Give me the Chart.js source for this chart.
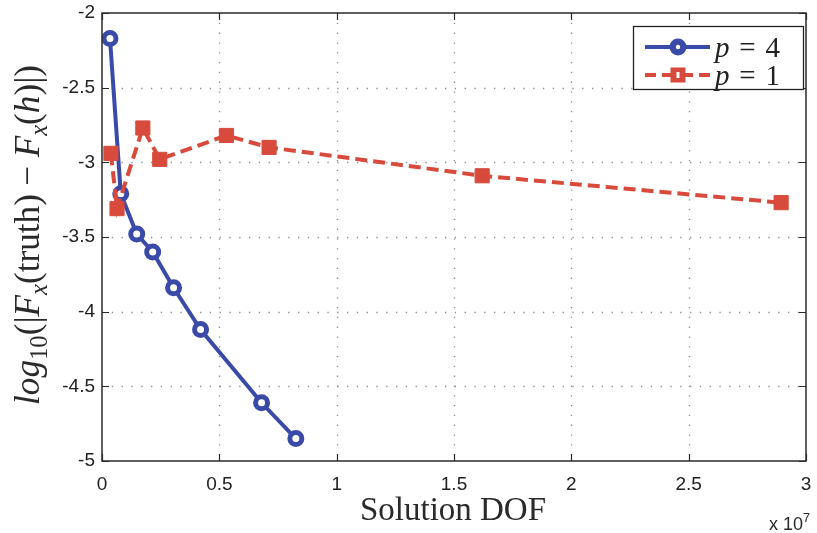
<!DOCTYPE html>
<html><head><meta charset="utf-8">
<script src="https://cdn.jsdelivr.net/npm/chart.js@4"></script>
<style>html,body{margin:0;padding:0;background:#fff}#wrap{width:817px;height:533px}</style>
</head><body><div id="wrap"><canvas id="c" width="817" height="533"></canvas></div>
<script>
// ---- data ----
const p4X = [340000, 800000, 1480000, 2160000, 3050000, 4200000, 6800000, 8260000];
const p4Y = [-2.17, -3.21, -3.48, -3.60, -3.84, -4.12, -4.61, -4.85];
const p1X = [380000, 640000, 1740000, 2460000, 5300000, 7120000, 16200000, 28940000];
const p1Y = [-2.94, -3.31, -2.77, -2.98, -2.82, -2.90, -3.09, -3.27];
const xTicks = [0, 5e6, 1e7, 1.5e7, 2e7, 2.5e7, 3e7];
const yTicks = [-5, -4.5, -4, -3.5, -3, -2.5, -2];
const legendNames = ['4', '1'];   // p = 4, p = 1
const xTitle = 'Solution DOF';

const BLUE = '#3a4aa8', RED = '#d84b3c';
const SERIF = '"Liberation Serif", "DejaVu Serif", serif';
const SANS = '"Liberation Sans", Arial, sans-serif';

function layoutMath(ctx, pieces, size) {
  let w = 0; const out = [];
  for (const p of pieces) {
    const s = p.sub ? size * 0.7 : (p.sup ? size * 0.7 : size);
    const font = (p.it ? 'italic ' : '') + s + 'px ' + (p.fam || SERIF);
    ctx.font = font;
    const pw = ctx.measureText(p.t).width;
    w += (p.gl || 0) * size;
    out.push({t: p.t, font, x: w, dy: p.sub ? size * 0.22 : (p.sup ? -size * 0.42 : 0)});
    w += pw + (p.gr || 0) * size;
  }
  return {w, out};
}
function drawMath(ctx, lay, x0, y0) {
  for (const o of lay.out) { ctx.font = o.font; ctx.fillText(o.t, x0 + o.x, y0 + o.dy); }
}

const deco = {
  id: 'deco',
  beforeDatasetsDraw(chart) {
    const {ctx, chartArea: a, scales: {x, y}} = chart;
    ctx.save();
    ctx.strokeStyle = '#8c8c8c'; ctx.lineWidth = 1.3; ctx.setLineDash([1.3, 8.5]);
    xTicks.slice(1, -1).forEach(v => {
      const px = Math.round(x.getPixelForValue(v)) + 0.5;
      ctx.beginPath(); ctx.moveTo(px, a.top); ctx.lineTo(px, a.bottom); ctx.stroke();
    });
    yTicks.slice(1, -1).forEach(v => {
      const py = Math.round(y.getPixelForValue(v)) + 0.5;
      ctx.beginPath(); ctx.moveTo(a.left, py); ctx.lineTo(a.right, py); ctx.stroke();
    });
    ctx.restore();
  },
  afterDatasetsDraw(chart) {
    const {ctx, chartArea: a, scales: {x, y}} = chart;
    ctx.save();
    // box
    ctx.strokeStyle = '#2a2a2a'; ctx.lineWidth = 1.5; ctx.setLineDash([]);
    ctx.strokeRect(a.left, a.top, a.right - a.left, a.bottom - a.top);
    // inward ticks
    ctx.lineWidth = 1.2; const tl = 7;
    xTicks.forEach(v => {
      const px = Math.round(x.getPixelForValue(v)) + 0.5;
      ctx.beginPath(); ctx.moveTo(px, a.bottom); ctx.lineTo(px, a.bottom - tl);
      ctx.moveTo(px, a.top); ctx.lineTo(px, a.top + tl); ctx.stroke();
    });
    yTicks.forEach(v => {
      const py = Math.round(y.getPixelForValue(v)) + 0.5;
      ctx.beginPath(); ctx.moveTo(a.left, py); ctx.lineTo(a.left + tl, py);
      ctx.moveTo(a.right, py); ctx.lineTo(a.right - tl, py); ctx.stroke();
    });

    // legend
    const L = 633, T = 26, R = 803, B = 89;
    ctx.fillStyle = '#fff'; ctx.fillRect(L, T, R - L, B - T);
    ctx.strokeStyle = '#222'; ctx.lineWidth = 1.3; ctx.strokeRect(L + 0.5, T + 0.5, R - L, B - T);
    const rows = [47, 75];
    // row 1 : blue solid + circle
    ctx.strokeStyle = BLUE; ctx.lineWidth = 4; ctx.setLineDash([]);
    ctx.beginPath(); ctx.moveTo(645, rows[0]); ctx.lineTo(710, rows[0]); ctx.stroke();
    ctx.fillStyle = BLUE; ctx.beginPath(); ctx.arc(678, rows[0], 8.5, 0, Math.PI * 2); ctx.fill();
    ctx.fillStyle = '#fff'; ctx.beginPath(); ctx.arc(678, rows[0], 2.2, 0, Math.PI * 2); ctx.fill();
    // row 2 : red dashed + square
    ctx.strokeStyle = RED; ctx.lineWidth = 4; ctx.setLineDash([11, 6]);
    ctx.beginPath(); ctx.moveTo(645, rows[1]); ctx.lineTo(672, rows[1]); ctx.stroke();
    ctx.beginPath(); ctx.moveTo(710, rows[1]); ctx.lineTo(683, rows[1]); ctx.stroke();
    ctx.setLineDash([]);
    ctx.fillStyle = RED; ctx.fillRect(670.5, rows[1] - 7.5, 15, 15);
    ctx.fillStyle = '#fff'; ctx.fillRect(676.5, rows[1] - 3, 3, 6);
    // legend texts
    ctx.fillStyle = '#222'; ctx.textBaseline = 'alphabetic'; ctx.textAlign = 'left';
    legendNames.forEach((n, i) => {
      const lay = layoutMath(ctx, [{t: 'p', it: true, gr: 0.34}, {t: '=', gr: 0.34}, {t: n}], 29);
      drawMath(ctx, lay, 715, rows[i] + 10);
    });

    // x title
    ctx.fillStyle = '#2a2a2a';
    let fs = 32; ctx.font = fs + 'px ' + SERIF;
    fs = fs * 186 / ctx.measureText(xTitle).width;
    ctx.font = fs + 'px ' + SERIF; ctx.textAlign = 'center';
    ctx.fillText(xTitle, 453, 520);

    // x 10^7
    ctx.textAlign = 'left';
    const ex = layoutMath(ctx, [{t: 'x 10', fam: SANS}, {t: '7', sup: true, fam: SANS}], 18);
    drawMath(ctx, ex, 810 - ex.w, 530);

    // y title
    const yl = [
      {t: 'log', it: true}, {t: '10', sub: true}, {t: '(|'}, {t: 'F', it: true}, {t: 'x', it: true, sub: true},
      {t: '(truth)'}, {t: '−', gl: 0.24, gr: 0.24}, {t: 'F', it: true}, {t: 'x', it: true, sub: true},
      {t: '('}, {t: 'h', it: true}, {t: ')|)'}
    ];
    let ys = 34; let lay = layoutMath(ctx, yl, ys);
    ys = ys * 340 / lay.w; lay = layoutMath(ctx, yl, ys);
    ctx.translate(39, 235); ctx.rotate(-Math.PI / 2);
    drawMath(ctx, lay, -lay.w / 2, 0);
    ctx.restore();
  }
};

const ctx = document.getElementById('c').getContext('2d');
new Chart(ctx, {
  type: 'scatter',
  data: {
    datasets: [
      {
        label: 'p = 1',
        data: p1X.map((v, i) => ({x: v, y: p1Y[i]})),
        showLine: true, borderColor: RED, backgroundColor: RED, borderWidth: 4, borderDash: [12, 6],
        pointStyle: 'rect', pointRadius: 10, pointBorderWidth: 1, pointBackgroundColor: RED, pointBorderColor: RED,
        tension: 0
      },
      {
        label: 'p = 4',
        data: p4X.map((v, i) => ({x: v, y: p4Y[i]})),
        showLine: true, borderColor: BLUE, backgroundColor: '#fff', borderWidth: 4,
        pointStyle: 'circle', pointRadius: 6, pointBorderWidth: 5, pointBackgroundColor: '#fff', pointBorderColor: BLUE,
        tension: 0
      }
    ]
  },
  options: {
    responsive: false, animation: false, devicePixelRatio: 1,
    layout: {padding: {top: 13, right: 8, left: 0, bottom: 0}},
    plugins: {legend: {display: false}, tooltip: {enabled: false}},
    scales: {
      x: {
        type: 'linear', min: 0, max: 3e7,
        afterBuildTicks: s => { s.ticks = xTicks.map(v => ({value: v})); },
        afterFit: s => { s.height = 72; s.paddingLeft = 0; s.paddingRight = 0; },
        ticks: {callback: v => String(v / 1e7), font: {family: SANS, size: 19}, color: '#222', padding: 12, maxRotation: 0, autoSkip: false},
        grid: {display: false, drawTicks: false}, border: {display: false}
      },
      y: {
        type: 'linear', min: -5, max: -2,
        afterBuildTicks: s => { s.ticks = yTicks.map(v => ({value: v})); },
        afterFit: s => { s.width = 102; s.paddingTop = 0; s.paddingBottom = 0; },
        ticks: {callback: v => String(v), font: {family: SANS, size: 19}, color: '#222', padding: 7, autoSkip: false},
        grid: {display: false, drawTicks: false}, border: {display: false}
      }
    }
  },
  plugins: [deco]
});
</script>
</body></html>
